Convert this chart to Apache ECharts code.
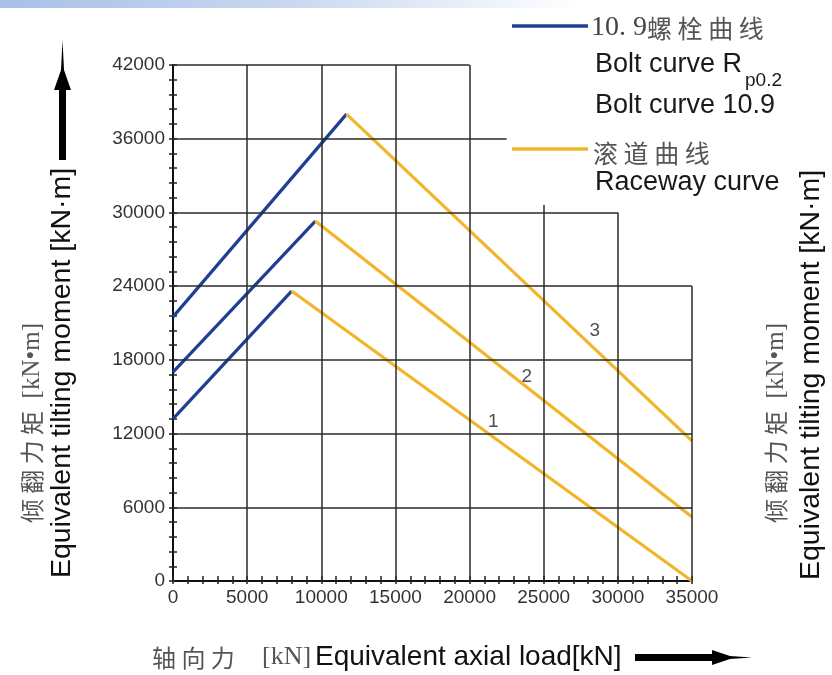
<!DOCTYPE html>
<html><head><meta charset="utf-8">
<script src="https://cdn.jsdelivr.net/npm/echarts@6/dist/echarts.min.js"></script>
<style>html,body{margin:0;padding:0;background:#fff}#c{width:832px;height:675px}</style>
</head><body><div id="c"></div>
<script>
// ---- data ----
const xMin = 0, xMax = 35000, xStep = 5000;
const yMin = 0, yMax = 42000, yStep = 6000;
const bolt1 = [[0, 13200], [8000, 23600]];
const race1 = [[8000, 23600], [35000, 0]];
const bolt2 = [[0, 17000], [9600, 29300]];
const race2 = [[9600, 29300], [35000, 5200]];
const bolt3 = [[0, 21500], [11700, 38000]];
const race3 = [[11700, 38000], [35000, 11400]];
const curveLabels = [['1', 21600, 12950], ['2', 23850, 16650], ['3', 28450, 20400]];
// grid segments: horizontal [y, xEnd], vertical [x, yEnd]
const hGrid = [[6000, 35000], [12000, 35000], [18000, 35000], [24000, 35000], [30000, 30000], [36000, 22500], [42000, 20000]];
const vGrid = [[5000, 42000], [10000, 42000], [15000, 42000], [20000, 42000], [25000, 30600], [30000, 30000], [35000, 24000]];

const BLUE = '#1f3f93', YELLOW = '#f1b52a';
const SANS = '"Liberation Sans", Arial, sans-serif';
const CJK = '"Noto Sans CJK SC", sans-serif';
const SERIF = '"Liberation Serif", "Times New Roman", serif';

const chart = echarts.init(document.getElementById('c'), null, {renderer: 'canvas'});

const gridLines = [];
hGrid.forEach(([y, xe]) => gridLines.push([{coord: [xMin, y]}, {coord: [xe, y]}]));
vGrid.forEach(([x, ye]) => gridLines.push([{coord: [x, yMin]}, {coord: [x, ye]}]));

function curve(name, data, color) {
  return {
    type: 'line', name, data, xAxisIndex: 0, yAxisIndex: 0,
    symbol: 'none', z: 4, silent: true, animation: false,
    lineStyle: {color, width: 3.2}
  };
}
const plain = v => String(v);

const axisCommon = {
  type: 'value', min: xMin, max: xMax, interval: xStep,
  splitLine: {show: false}
};

const option = {
  animation: false,
  backgroundColor: '#ffffff',
  textStyle: {fontFamily: SANS},
  grid: {left: 173, right: 140, top: 65, bottom: 94, containLabel: false},
  xAxis: [
    Object.assign({}, axisCommon, {
      position: 'bottom',
      axisLine: {show: true, lineStyle: {color: '#111', width: 2}},
      axisTick: {show: true, inside: false, length: 3, lineStyle: {color: '#222', width: 1.5}},
      minorTick: {show: true, splitNumber: 5, length: 3, lineStyle: {color: '#222', width: 1.5}},
      axisLabel: {show: true, fontSize: 19, color: '#333', margin: 7, fontFamily: SANS, formatter: plain}
    }),
    Object.assign({}, axisCommon, {
      position: 'bottom',
      axisLine: {show: false},
      axisTick: {show: true, inside: true, length: 5, lineStyle: {color: '#222', width: 1.5}},
      minorTick: {show: true, splitNumber: 5, length: 5, lineStyle: {color: '#222', width: 1.5}},
      axisLabel: {show: false}
    })
  ],
  yAxis: [
    {
      type: 'value', min: yMin, max: yMax, interval: yStep, position: 'left',
      splitLine: {show: false},
      axisLine: {show: true, lineStyle: {color: '#111', width: 2}},
      axisTick: {show: true, inside: false, length: 4, lineStyle: {color: '#222', width: 1.5}},
      minorTick: {show: true, splitNumber: 5, length: 4, lineStyle: {color: '#222', width: 1.5}},
      axisLabel: {show: true, fontSize: 19, color: '#333', margin: 8, fontFamily: SANS, formatter: plain}
    },
    {
      type: 'value', min: yMin, max: yMax, interval: yStep, position: 'left',
      splitLine: {show: false},
      axisLine: {show: false},
      axisTick: {show: true, inside: true, length: 4, lineStyle: {color: '#222', width: 1.5}},
      minorTick: {show: true, splitNumber: 5, length: 4, lineStyle: {color: '#222', width: 1.5}},
      axisLabel: {show: false}
    }
  ],
  series: [
    {
      type: 'line', name: 'grid', data: [], xAxisIndex: 0, yAxisIndex: 0, z: 1, silent: true,
      markLine: {
        silent: true, animation: false, symbol: ['none', 'none'],
        label: {show: false}, emphasis: {disabled: true},
        lineStyle: {color: '#2a2a2a', width: 1.5, type: 'solid'},
        data: gridLines
      }
    },
    curve('bolt1', bolt1, BLUE),
    curve('race1', race1, YELLOW),
    curve('bolt2', bolt2, BLUE),
    curve('race2', race2, YELLOW),
    curve('bolt3', bolt3, BLUE),
    curve('race3', race3, YELLOW),
    {
      type: 'scatter', name: 'labels', z: 5, silent: true, symbolSize: 0,
      data: curveLabels.map(([n, x, y]) => ({name: n, value: [x, y]})),
      label: {show: true, position: 'inside', formatter: '{b}', fontSize: 19, color: '#222', fontFamily: SANS}
    }
  ],
  graphic: [
    // top decorative band
    {type: 'rect', left: 0, top: 0, z: 0, shape: {width: 832, height: 8},
     style: {fill: new echarts.graphic.LinearGradient(0, 0, 1, 0, [
       {offset: 0, color: '#a8c0e6'}, {offset: 0.35, color: '#c9d8f0'}, {offset: 0.7, color: '#ffffff'}])}},
    // legend
    {type: 'line', shape: {x1: 512, y1: 26, x2: 588, y2: 26}, style: {stroke: BLUE, lineWidth: 3.5}},
    {type: 'text', x: 591, y: 28, style: {text: '{a|10. 9}{b|螺 栓 曲 线}', verticalAlign: 'middle',
      rich: {a: {fontFamily: SERIF, fontSize: 28, fill: '#444'}, b: {fontFamily: CJK, fontSize: 25, fill: '#555'}}}},
    {type: 'text', x: 595, y: 65, style: {text: 'Bolt curve R', fontFamily: SANS, fontSize: 27, fill: '#1a1a1a', verticalAlign: 'middle'}},
    {type: 'text', x: 745, y: 81, style: {text: 'p0.2', fontFamily: SANS, fontSize: 19, fill: '#1a1a1a', verticalAlign: 'middle'}},
    {type: 'text', x: 595, y: 106, style: {text: 'Bolt curve 10.9', fontFamily: SANS, fontSize: 27, fill: '#1a1a1a', verticalAlign: 'middle'}},
    {type: 'line', shape: {x1: 512, y1: 149, x2: 588, y2: 149}, style: {stroke: YELLOW, lineWidth: 3.5}},
    {type: 'text', x: 593, y: 153, style: {text: '滚 道 曲 线', fontFamily: CJK, fontSize: 25, fill: '#555', verticalAlign: 'middle'}},
    {type: 'text', x: 595, y: 183, style: {text: 'Raceway curve', fontFamily: SANS, fontSize: 27, fill: '#1a1a1a', verticalAlign: 'middle'}},
    // left titles
    {type: 'text', x: 32, y: 423, rotation: Math.PI / 2, style: {text: '{c|倾 翻 力 矩}{s|  [kN•m]}', align: 'center', verticalAlign: 'middle',
      rich: {c: {fontFamily: CJK, fontSize: 24, fill: '#555'}, s: {fontFamily: SERIF, fontSize: 25, fill: '#555'}}}},
    {type: 'text', x: 62, y: 373, rotation: Math.PI / 2, style: {text: 'Equivalent tilting moment [kN·m]', fontFamily: SANS, fontSize: 28.5, fill: '#111', align: 'center', verticalAlign: 'middle'}},
    // left arrow
    {type: 'rect', shape: {x: 59, y: 84, width: 7, height: 76}, style: {fill: '#000'}},
    {type: 'polygon', shape: {points: [[54, 90], [71, 90], [64, 70], [62.5, 40], [61, 70]]}, style: {fill: '#000'}},
    // right titles
    {type: 'text', x: 776, y: 423, rotation: Math.PI / 2, style: {text: '{c|倾 翻 力 矩}{s|  [kN•m]}', align: 'center', verticalAlign: 'middle',
      rich: {c: {fontFamily: CJK, fontSize: 24, fill: '#555'}, s: {fontFamily: SERIF, fontSize: 25, fill: '#555'}}}},
    {type: 'text', x: 811, y: 375, rotation: Math.PI / 2, style: {text: 'Equivalent tilting moment [kN·m]', fontFamily: SANS, fontSize: 28.5, fill: '#111', align: 'center', verticalAlign: 'middle'}},
    // bottom title
    {type: 'text', x: 152, y: 658, style: {text: '轴 向 力', fontFamily: CJK, fontSize: 24, fill: '#555', verticalAlign: 'middle'}},
    {type: 'text', x: 262, y: 657, style: {text: '[kN]', fontFamily: SERIF, fontSize: 26, fill: '#555', verticalAlign: 'middle'}},
    {type: 'text', x: 315, y: 657, style: {text: 'Equivalent axial load[kN]', fontFamily: SANS, fontSize: 28, fill: '#111', verticalAlign: 'middle'}},
    // bottom arrow
    {type: 'rect', shape: {x: 635, y: 654, width: 82, height: 7}, style: {fill: '#000'}},
    {type: 'polygon', shape: {points: [[712, 650], [712, 665], [730, 659], [752, 657.5], [730, 656]]}, style: {fill: '#000'}}
  ]
};
chart.setOption(option);
</script>
</body></html>
